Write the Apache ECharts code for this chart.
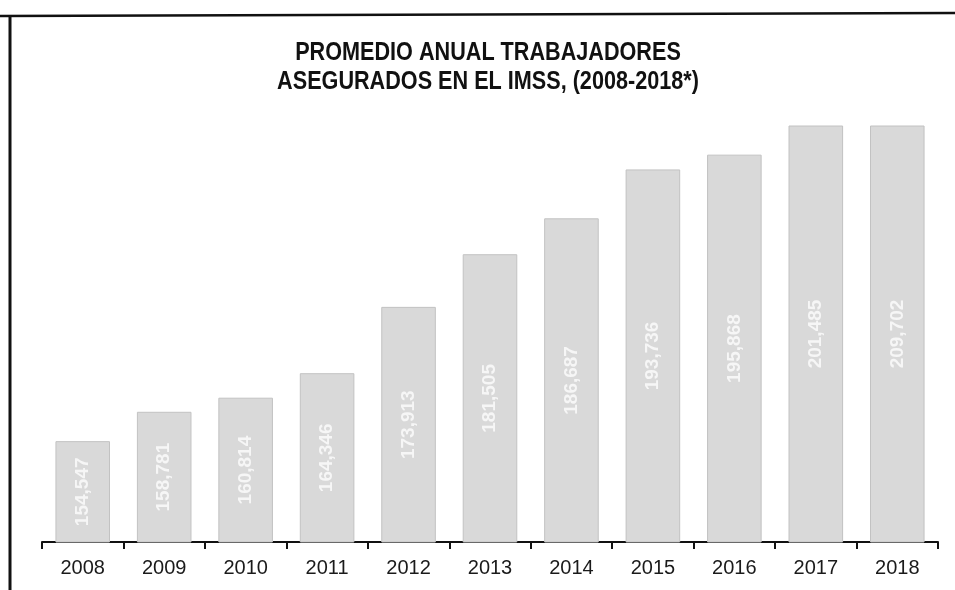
<!DOCTYPE html>
<html>
<head>
<meta charset="utf-8">
<script src="https://cdn.jsdelivr.net/npm/echarts@6/dist/echarts.min.js"></script>
<style>
html,body{margin:0;padding:0;background:#fff;}
#chart_imss{width:955px;height:590px;}
</style>
</head>
<body>
<div id="chart_imss"></div>
<script>
// datos del grafico
var years = ['2008','2009','2010','2011','2012','2013','2014','2015','2016','2017','2018'];
var workers = [154547,158781,160814,164346,173913,181505,186687,193736,195868,201485,209702];
var yMin = 140000;
var yMax = 200000;
var titulo = 'PROMEDIO ANUAL TRABAJADORES\nASEGURADOS EN EL IMSS, (2008-2018*)';

function miles(v){
    return String(v).replace(/\B(?=(\d{3})+(?!\d))/g, ',');
}

window.onload=function(){
    var myChart=echarts.init(document.getElementById('chart_imss'));
    var option = {
        backgroundColor:'#fff',
        animation:false,
        grid: {
            left: 42,
            right: 17,
            top: 126,
            bottom: 48
        },
        xAxis: {
            type: 'category',
            data: years,
            boundaryGap: true,
            axisLine:{ lineStyle:{ color:'#111', width:2 } },
            axisTick:{ show:true, length:7, lineStyle:{ color:'#111', width:2 } },
            axisLabel:{
                margin:16,
                fontSize:20,
                fontFamily:'"Liberation Sans",Arial,sans-serif',
                color:'#1a1a1a'
            }
        },
        yAxis: {
            type: 'value',
            min: yMin,
            max: yMax,
            show: false,
            splitLine:{ show:false }
        },
        graphic: [
            // marco del documento escaneado
            { type:'line', shape:{x1:0,y1:16,x2:955,y2:13}, style:{stroke:'#111', lineWidth:2.5} },
            { type:'line', shape:{x1:10,y1:15,x2:10,y2:590}, style:{stroke:'#111', lineWidth:3} },
            // titulo (letra estrecha)
            {
                type:'text',
                x:488,
                y:39,
                scaleX:0.865,
                style:{
                    text:titulo,
                    textAlign:'center',
                    textVerticalAlign:'top',
                    font:'bold 25px "Liberation Sans",Arial,sans-serif',
                    lineHeight:29,
                    fill:'#111'
                }
            }
        ],
        series: [
            {
                name:'Trabajadores',
                type:'bar',
                clip:true,
                barCategoryGap:'33%',
                itemStyle:{
                    color:'#d9d9d9',
                    borderColor:'#c2c2c2',
                    borderWidth:1
                },
                label:{
                    show:true,
                    position:'inside',
                    rotate:90,
                    fontSize:19,
                    fontWeight:'bold',
                    fontFamily:'"Liberation Sans",Arial,sans-serif',
                    color:'#f6f6f6',
                    formatter:function(p){ return miles(p.value); }
                },
                data: workers
            }
        ]
    };
    myChart.setOption(option);
}
</script>
</body>
</html>
